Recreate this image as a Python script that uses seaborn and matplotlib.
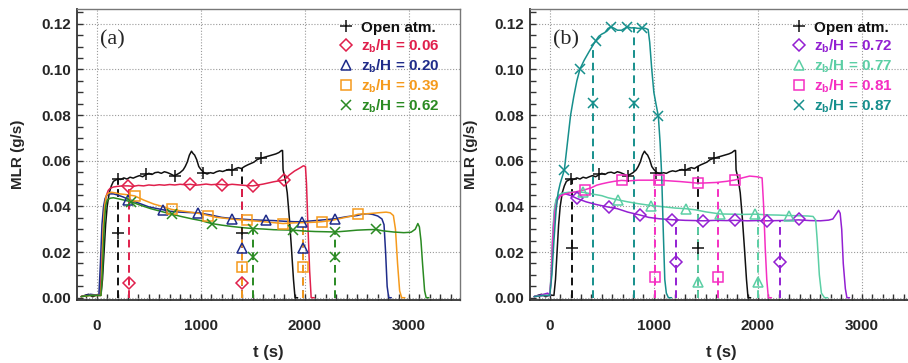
import matplotlib
matplotlib.use("Agg")
import matplotlib.pyplot as plt
from matplotlib.lines import Line2D
from matplotlib.ticker import MultipleLocator, FormatStrFormatter
import seaborn as sns

sns.set_style("ticks")
plt.rcParams["font.family"] = ["Liberation Sans", "DejaVu Sans"]
plt.rcParams["mathtext.fontset"] = "custom"
plt.rcParams["mathtext.rm"] = "Liberation Sans"
plt.rcParams["mathtext.bf"] = "Liberation Sans:bold"

# ---------------- data: open atmosphere (both panels) ----------------
open_t = [-150, -80, -40, 0, 40, 55, 70, 85, 100, 120, 140, 160, 180, 200, 230, 260, 290, 320, 350,
          380, 410, 440, 470, 500, 530, 560, 590, 620, 650, 680, 710, 740, 770, 800, 830, 850,
          870, 890, 910, 925, 940, 960, 980, 1000, 1030, 1060, 1090, 1120, 1150, 1180, 1210,
          1240, 1270, 1300, 1330, 1360, 1390, 1420, 1450, 1480, 1510, 1540, 1570, 1600, 1630,
          1660, 1690, 1720, 1750, 1775, 1785, 1790, 1810, 1830, 1850, 1870, 1890, 1905, 1930]
open_y = [0.0005, 0.0015, 0.0004, 0.0012, 0.001, 0.008, 0.020, 0.032, 0.040, 0.046, 0.049, 0.051,
          0.0515, 0.052, 0.0518, 0.0525, 0.052, 0.0528, 0.0524, 0.053, 0.0535, 0.053, 0.0538,
          0.0545, 0.054, 0.0548, 0.055, 0.0545, 0.0552, 0.0548, 0.0542, 0.0535, 0.054, 0.0548,
          0.056, 0.0575, 0.0595, 0.0625, 0.0642, 0.0632, 0.0625, 0.0605, 0.0575, 0.0562, 0.0548,
          0.0542, 0.0548, 0.0545, 0.0552, 0.0556, 0.0553, 0.0558, 0.0562, 0.0558, 0.0565, 0.057,
          0.0566, 0.0575, 0.0582, 0.0588, 0.0594, 0.0605, 0.061, 0.0614, 0.0618, 0.0622, 0.0626,
          0.063, 0.0636, 0.0645, 0.0645, 0.056, 0.052, 0.046, 0.035, 0.022, 0.008, 0.0, 0.0]
open_mk_t = [200, 475, 750, 1025, 1300, 1575]
open_mk_y = [0.052, 0.054, 0.0535, 0.0548, 0.0558, 0.061]

# ---------------- panel (a) ----------------
a06_t = [-150, -60, 30, 45, 60, 75, 90, 110, 130, 160, 200, 250, 300, 350, 400, 450, 500, 550, 600,
         650, 700, 750, 800, 850, 900, 950, 1000, 1050, 1100, 1150, 1200, 1250, 1300, 1350, 1400,
         1450, 1500, 1550, 1600, 1650, 1700, 1750, 1800, 1850, 1900, 1950, 1985, 2005, 2015, 2030,
         2045, 2060, 2090]
a06_y = [0.0005, 0.0012, 0.001, 0.012, 0.028, 0.039, 0.0445, 0.047, 0.048, 0.0485, 0.0488, 0.049,
         0.049, 0.0488, 0.0492, 0.049, 0.0494, 0.0492, 0.0495, 0.0493, 0.0496, 0.0494, 0.0497,
         0.0495, 0.0497, 0.0493, 0.0495, 0.0498, 0.0495, 0.0497, 0.0496, 0.0494, 0.0497, 0.0495,
         0.0493, 0.0491, 0.049, 0.0494, 0.0498, 0.0503, 0.0508, 0.0512, 0.0516, 0.0538, 0.0555,
         0.0568, 0.0578, 0.0575, 0.050, 0.030, 0.012, 0.0, 0.0]
a06_mk_t = [300, 900, 1200, 1500, 1800]
a06_mk_y = [0.049, 0.0497, 0.0496, 0.049, 0.0516]

a20_t = [-150, -60, 20, 35, 50, 65, 80, 100, 130, 160, 200, 250, 300, 400, 500, 640, 700, 800, 900,
         975, 1100, 1200, 1300, 1400, 1500, 1630, 1700, 1800, 1900, 1970, 2100, 2200, 2290, 2400,
         2500, 2550, 2600, 2650, 2700, 2740, 2760, 2775, 2790, 2805, 2830]
a20_y = [0.0005, 0.0015, 0.001, 0.015, 0.032, 0.040, 0.0435, 0.045, 0.0455, 0.0455, 0.045, 0.0442,
         0.0432, 0.0415, 0.0398, 0.0385, 0.0379, 0.0375, 0.0373, 0.0372, 0.0362, 0.0352, 0.0347,
         0.0344, 0.0341, 0.0339, 0.0338, 0.0335, 0.0333, 0.0333, 0.0338, 0.0342, 0.0346, 0.0355,
         0.036, 0.0366, 0.0368, 0.0365, 0.0358, 0.0345, 0.032, 0.020, 0.005, 0.0, 0.0]
a20_mk_t = [300, 640, 975, 1295, 1630, 1970, 2290]
a20_mk_y = [0.0429, 0.0385, 0.0372, 0.0347, 0.0339, 0.0333, 0.0346]

a39_t = [-150, -60, 40, 50, 60, 75, 90, 110, 140, 170, 220, 280, 365, 450, 550, 630, 718, 800, 900,
         1000, 1071, 1150, 1250, 1350, 1440, 1550, 1650, 1790, 1900, 2000, 2100, 2160, 2250, 2350,
         2450, 2513, 2600, 2700, 2780, 2820, 2850, 2870, 2890, 2910, 2930, 2960]
a39_y = [0.0005, 0.001, 0.001, 0.012, 0.028, 0.040, 0.0445, 0.0458, 0.0462, 0.046, 0.0455, 0.0452,
         0.0446, 0.0428, 0.041, 0.040, 0.0387, 0.0381, 0.0375, 0.0368, 0.036, 0.0352, 0.0347,
         0.0342, 0.0339, 0.0335, 0.0331, 0.0325, 0.0328, 0.0329, 0.0331, 0.0333, 0.0338, 0.0348,
         0.0358, 0.0366, 0.0368, 0.0372, 0.0375, 0.0372, 0.036, 0.030, 0.015, 0.003, 0.0, 0.0]
a39_mk_t = [365, 718, 1071, 1440, 1790, 2160, 2513]
a39_mk_y = [0.0446, 0.0387, 0.036, 0.0339, 0.0325, 0.0333, 0.0368]

a62_t = [-150, -60, 40, 55, 70, 85, 100, 130, 160, 200, 260, 333, 420, 520, 620, 718, 820, 920, 1000,
         1103, 1200, 1300, 1400, 1503, 1600, 1700, 1800, 1888, 2000, 2100, 2200, 2288, 2400, 2500,
         2600, 2683, 2750, 2850, 2950, 3020, 3060, 3085, 3100, 3115, 3130, 3150, 3165, 3190]
a62_y = [0.0005, 0.001, 0.001, 0.012, 0.030, 0.040, 0.0428, 0.0436, 0.0438, 0.0434, 0.0428, 0.042,
         0.0405, 0.039, 0.0378, 0.0366, 0.0355, 0.0345, 0.0338, 0.0325, 0.0318, 0.0312, 0.0307,
         0.0303, 0.0301, 0.0298, 0.0297, 0.0296, 0.0292, 0.029, 0.0289, 0.0288, 0.0292, 0.0296,
         0.0298, 0.0299, 0.0293, 0.0288, 0.0285, 0.0287, 0.030, 0.0325, 0.031, 0.025, 0.015,
         0.003, 0.0, 0.0]
a62_mk_t = [333, 718, 1103, 1503, 1888, 2288, 2683]
a62_mk_y = [0.042, 0.0366, 0.0325, 0.0303, 0.0296, 0.0288, 0.0299]

# dashed vertical lines: times, top values, marker heights
a_open_dash_t, a_open_dash_top, a_open_dash_mk = [200, 1400], [0.052, 0.0568], 0.0283
a06_dash_t, a06_dash_top, a06_dash_mk = [305, 1400], [0.049, 0.0493], 0.0064
a20_dash_t, a20_dash_top, a20_dash_mk = [1400, 1985], [0.0344, 0.0334], 0.022
a39_dash_t, a39_dash_top, a39_dash_mk = [1400, 1985], [0.034, 0.0329], 0.0136
a62_dash_t, a62_dash_top, a62_dash_mk = [1500, 2290], [0.0303, 0.0288], 0.0177

# ---------------- panel (b) ----------------
b72_t = [-150, -60, -20, 0, 15, 30, 45, 60, 80, 110, 150, 200, 260, 350, 450, 565, 650, 750, 870,
         950, 1050, 1170, 1300, 1400, 1475, 1600, 1700, 1780, 1900, 2000, 2085, 2200, 2300, 2390,
         2500, 2600, 2680, 2720, 2760, 2775, 2790, 2805, 2820, 2840, 2855, 2880]
b72_y = [0.0005, 0.0015, 0.002, 0.001, 0.010, 0.028, 0.038, 0.0425, 0.0445, 0.0452, 0.0455, 0.0448,
         0.0435, 0.042, 0.0408, 0.0397, 0.039, 0.0375, 0.0362, 0.0352, 0.0346, 0.0342, 0.0339,
         0.0338, 0.0337, 0.0339, 0.0338, 0.0339, 0.0337, 0.0338, 0.0337, 0.0338, 0.0339, 0.0341,
         0.0338, 0.0337, 0.034, 0.0345, 0.0372, 0.0383, 0.037, 0.030, 0.015, 0.004, 0.0, 0.0]
b72_mk_t = [260, 565, 870, 1170, 1475, 1780, 2085, 2390]
b72_mk_y = [0.0435, 0.0397, 0.0362, 0.0342, 0.0337, 0.0339, 0.0337, 0.0346]

b77_t = [-150, -60, 0, 15, 30, 45, 60, 80, 120, 180, 250, 320, 400, 500, 560, 652, 750, 850, 973,
         1100, 1200, 1307, 1400, 1500, 1638, 1750, 1850, 1968, 2100, 2200, 2296, 2400, 2480, 2530,
         2555, 2570, 2590, 2610, 2640, 2670]
b77_y = [0.0005, 0.001, 0.001, 0.012, 0.030, 0.039, 0.043, 0.0448, 0.0458, 0.0462, 0.0463, 0.0462,
         0.0455, 0.0447, 0.0438, 0.0429, 0.042, 0.0412, 0.0404, 0.0398, 0.0393, 0.039, 0.0385,
         0.0376, 0.0367, 0.0366, 0.0365, 0.0366, 0.0363, 0.0362, 0.036, 0.0359, 0.0358, 0.0356,
         0.034, 0.025, 0.010, 0.002, 0.0, 0.0]
b77_mk_t = [320, 652, 973, 1307, 1638, 1968, 2296]
b77_mk_y = [0.0462, 0.0429, 0.0404, 0.039, 0.0367, 0.0367, 0.036]

b81_t = [-150, -60, 0, 15, 30, 50, 70, 100, 150, 200, 260, 337, 400, 450, 500, 560, 620, 690, 760,
         850, 950, 1050, 1150, 1250, 1350, 1420, 1500, 1600, 1700, 1780, 1850, 1920, 1990, 2040,
         2055, 2070, 2085, 2100, 2130]
b81_y = [0.0005, 0.001, 0.001, 0.010, 0.027, 0.038, 0.0425, 0.0445, 0.0455, 0.046, 0.0465, 0.0473,
         0.0482, 0.0493, 0.0499, 0.0505, 0.051, 0.0514, 0.0512, 0.0515, 0.0515, 0.0515, 0.0512,
         0.0509, 0.0505, 0.0502, 0.0503, 0.0505, 0.051, 0.0516, 0.0525, 0.0533, 0.053, 0.0525,
         0.040, 0.022, 0.008, 0.0, 0.0]
b81_mk_t = [337, 690, 1050, 1420, 1780]
b81_mk_y = [0.0473, 0.0514, 0.0515, 0.0502, 0.0516]

b87_t = [-150, -60, 0, 20, 40, 60, 80, 100, 120, 140, 160, 180, 200, 230, 260, 290, 330, 380, 440,
         470, 500, 530, 560, 590, 620, 650, 690, 720, 750, 780, 810, 850, 890, 920, 945, 960, 980,
         1000, 1020, 1043, 1060, 1075, 1090, 1105, 1120, 1140, 1170]
b87_y = [0.0005, 0.001, 0.001, 0.010, 0.025, 0.038, 0.046, 0.050, 0.053, 0.056, 0.064, 0.072,
         0.080, 0.088, 0.095, 0.1002, 0.104, 0.108, 0.1125, 0.1145, 0.1155, 0.1162, 0.118, 0.1187,
         0.118, 0.1172, 0.1172, 0.118, 0.1187, 0.1182, 0.1183, 0.118, 0.1182, 0.118, 0.1175,
         0.112, 0.100, 0.090, 0.085, 0.0796, 0.068, 0.054, 0.030, 0.008, 0.002, 0.0, 0.0]
b87_mk_t = [140, 290, 440, 590, 740, 890, 1043]
b87_mk_y = [0.056, 0.1002, 0.1125, 0.1187, 0.1187, 0.1182, 0.0796]

b_open_dash_t, b_open_dash_top, b_open_dash_mk = [215, 1420], [0.0517, 0.0575], 0.0216
b72_dash_t, b72_dash_top, b72_dash_mk = [1215, 2215], [0.0342, 0.0338], 0.0157
b77_dash_t, b77_dash_top, b77_dash_mk = [1420, 2005], [0.0385, 0.0365], 0.0071
b81_dash_t, b81_dash_top, b81_dash_mk = [1010, 1615], [0.0515, 0.0506], 0.009
b87_dash_t, b87_dash_top, b87_dash_mk = [412, 812], [0.111, 0.1183], 0.0854

labels_a = ["Open atm.", r"z$_\mathbf{b}$/H = 0.06", r"z$_\mathbf{b}$/H = 0.20",
            r"z$_\mathbf{b}$/H = 0.39", r"z$_\mathbf{b}$/H = 0.62"]
labels_b = ["Open atm.", r"z$_\mathbf{b}$/H = 0.72", r"z$_\mathbf{b}$/H = 0.77",
            r"z$_\mathbf{b}$/H = 0.81", r"z$_\mathbf{b}$/H = 0.87"]
x_ticks = [0, 1000, 2000, 3000]
y_ticks = [0.00, 0.02, 0.04, 0.06, 0.08, 0.10, 0.12]

# ---------------- styling ----------------
C_OPEN = "#111111"
C06, C20, C39, C62 = "#e0204c", "#1f2c8a", "#f59a1c", "#2a8a22"
C72, C77, C81, C87 = "#9320d2", "#5ccfa5", "#f52fc2", "#168f8c"
MK = {"open": ("+", 8.5), "D": ("D", 6.5), "^": ("^", 7.5), "s": ("s", 7.5), "x": ("x", 7.5)}

series_a = [
    (open_t, open_y, open_mk_t, open_mk_y, a_open_dash_t, a_open_dash_top, a_open_dash_mk, C_OPEN, "open"),
    (a06_t, a06_y, a06_mk_t, a06_mk_y, a06_dash_t, a06_dash_top, a06_dash_mk, C06, "D"),
    (a20_t, a20_y, a20_mk_t, a20_mk_y, a20_dash_t, a20_dash_top, a20_dash_mk, C20, "^"),
    (a39_t, a39_y, a39_mk_t, a39_mk_y, a39_dash_t, a39_dash_top, a39_dash_mk, C39, "s"),
    (a62_t, a62_y, a62_mk_t, a62_mk_y, a62_dash_t, a62_dash_top, a62_dash_mk, C62, "x"),
]
series_b = [
    (open_t, open_y, open_mk_t, open_mk_y, b_open_dash_t, b_open_dash_top, b_open_dash_mk, C_OPEN, "open"),
    (b72_t, b72_y, b72_mk_t, b72_mk_y, b72_dash_t, b72_dash_top, b72_dash_mk, C72, "D"),
    (b77_t, b77_y, b77_mk_t, b77_mk_y, b77_dash_t, b77_dash_top, b77_dash_mk, C77, "^"),
    (b81_t, b81_y, b81_mk_t, b81_mk_y, b81_dash_t, b81_dash_top, b81_dash_mk, C81, "s"),
    (b87_t, b87_y, b87_mk_t, b87_mk_y, b87_dash_t, b87_dash_top, b87_dash_mk, C87, "x"),
]

W, H = 908, 363
fig = plt.figure(figsize=(W / 100, H / 100), dpi=100)
ax_a = fig.add_axes([77 / W, (H - 300) / H, 383 / W, 291 / H])
ax_b = fig.add_axes([530 / W, (H - 300) / H, 383 / W, 291 / H])


def draw_panel(ax, series, labels, tag):
    handles = []
    for (t, y, mt, my, dt, dtop, dmk, col, mkey) in series:
        mk, ms = MK[mkey]
        ax.vlines(dt, 0, dtop, colors=col, linestyles=(0, (4, 2.5)), lw=1.4, zorder=2)
        sns.lineplot(x=t, y=y, ax=ax, color=col, lw=1.1, estimator=None, sort=False, zorder=3)
        mkw = dict(marker=mk, markersize=ms, markerfacecolor="none", markeredgecolor=col,
                   markeredgewidth=1.1, linestyle="none", estimator=None, sort=False, zorder=4)
        sns.lineplot(x=mt, y=my, ax=ax, color=col, **mkw)
        sns.lineplot(x=dt, y=[dmk] * len(dt), ax=ax, color=col, **mkw)
        handles.append(Line2D([], [], marker=mk, markersize=ms, markerfacecolor="none",
                              markeredgecolor=col, markeredgewidth=1.1, linestyle="none"))
    ax.set_xlim(-190, 3490)
    ax.set_ylim(-0.001, 0.1265)
    ax.set_xticks(x_ticks)
    ax.set_yticks(y_ticks)
    ax.xaxis.set_minor_locator(MultipleLocator(100))
    ax.yaxis.set_minor_locator(MultipleLocator(0.005))
    ax.yaxis.set_major_formatter(FormatStrFormatter("%.2f"))
    ax.tick_params(which="both", direction="in", length=4.5, width=1.0, color="#333333",
                   top=False, right=False)
    ax.tick_params(axis="x", which="major", pad=14, labelsize=11)
    ax.tick_params(axis="y", which="major", pad=4, labelsize=11)
    for lab in ax.get_xticklabels() + ax.get_yticklabels():
        lab.set_fontweight("bold")
    ax.grid(True, which="major", linestyle=(0, (1, 1.6)), color="#9a9a9a", lw=0.8)
    ax.set_axisbelow(True)
    for s in ["left", "bottom"]:
        ax.spines[s].set_color("#333333")
        ax.spines[s].set_linewidth(1.3)
    for s in ["top", "right"]:
        ax.spines[s].set_color("#777777")
        ax.spines[s].set_linewidth(1.0)
    ax.set_xlabel("t (s)", fontsize=12, fontweight="bold", labelpad=8)
    ax.set_ylabel("MLR (g/s)", fontsize=11, fontweight="bold", labelpad=12)
    leg = ax.legend(handles, labels, loc="upper left", bbox_to_anchor=(0.683, 0.96),
                    frameon=False, borderpad=0, borderaxespad=0, handlelength=1.0,
                    handletextpad=0.45, labelspacing=0.16,
                    prop={"weight": "bold", "size": 11})
    for txt, s in zip(leg.get_texts(), series):
        txt.set_color(s[7])
    ax.text(0.06, 0.893, tag, transform=ax.transAxes, fontsize=16, va="center", ha="left",
            family=["Liberation Serif", "DejaVu Serif"])


draw_panel(ax_a, series_a, labels_a, "(a)")
draw_panel(ax_b, series_b, labels_b, "(b)")

fig.savefig("out.png", dpi=100)
